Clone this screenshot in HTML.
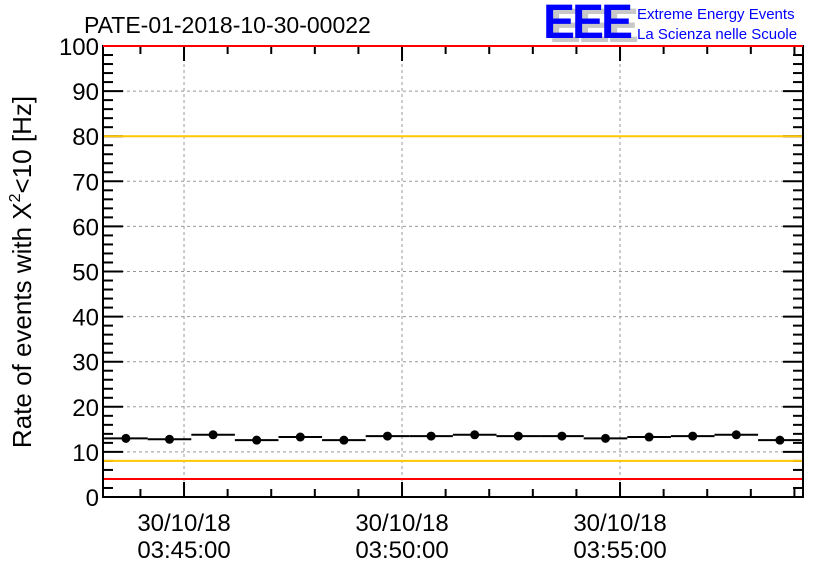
<!DOCTYPE html>
<html><head><meta charset="utf-8"><style>
body{margin:0;background:#fff;width:836px;height:572px;overflow:hidden;font-family:"Liberation Sans",sans-serif}
</style></head><body>
<svg id="c" width="836" height="572" xmlns="http://www.w3.org/2000/svg" font-family="Liberation Sans, sans-serif">
<text x="84" y="33" font-size="23">PATE-01-2018-10-30-00022</text>
<g>
<text x="549" y="42" font-size="48" font-weight="bold" fill="#c8c8c8" letter-spacing="-3">EEE</text>
<text x="543" y="38" font-size="48" font-weight="bold" fill="#0000ff" letter-spacing="-3">EEE</text>
<text x="637" y="19" font-size="15" fill="#0000ff">Extreme Energy Events</text>
<text x="637" y="39" font-size="15" fill="#0000ff">La Scienza nelle Scuole</text>
</g>
<text transform="translate(31,272) rotate(-90)" text-anchor="middle" font-size="26">Rate of events with X<tspan dy="-11" font-size="16">2</tspan><tspan dy="11">&lt;10 [Hz]</tspan></text>
<g id="plot"></g>
</svg>
<script>
const yTicks=[0,10,20,30,40,50,60,70,80,90,100];
const xTickSec=[0,300,600];
const xTickDate=["30/10/18","30/10/18","30/10/18"];
const xTickTime=["03:45:00","03:50:00","03:55:00"];
const binSec=[-80,-20,40,100,160,220,280,340,400,460,520,580,640,700,760,820];
const rates=[13,12.8,13.8,12.6,13.3,12.6,13.5,13.5,13.8,13.5,13.5,13,13.3,13.5,13.8,12.6];
const thrRed=[4,100];
const thrOrange=[8,80];
const L=103,R=803,T=46,B=497,x0=-111.5,x1=851.8;
const X=s=>L+(s-x0)/(x1-x0)*(R-L);
const Y=v=>B-v/100*(B-T);
const g=document.getElementById('plot');const NS="http://www.w3.org/2000/svg";
function el(t,a,p){const e=document.createElementNS(NS,t);for(const k in a)e.setAttribute(k,a[k]);(p||g).appendChild(e);return e;}
yTicks.forEach(v=>{if(v>0&&v<100){const l=el('line',{x1:L,x2:R,y1:Y(v),y2:Y(v),stroke:'#999','stroke-dasharray':'3,3'});

}
const t=el('text',{x:L-4,y:Y(v)+9,'text-anchor':'end','font-size':'24'});t.textContent=v;


el('line',{x1:L,x2:L+20,y1:Y(v),y2:Y(v),stroke:'#000','stroke-width':2});
el('line',{x1:R,x2:R-20,y1:Y(v),y2:Y(v),stroke:'#000','stroke-width':2});});
for(let v=2;v<100;v+=2){if(v%10){el('line',{x1:L,x2:L+10,y1:Y(v),y2:Y(v),stroke:'#000','stroke-width':2});el('line',{x1:R,x2:R-10,y1:Y(v),y2:Y(v),stroke:'#000','stroke-width':2});}}
xTickSec.forEach((s,i)=>{const l=el('line',{x1:X(s),x2:X(s),y1:T,y2:B,stroke:'#999','stroke-dasharray':'3,3'});


el('line',{x1:X(s),x2:X(s),y1:B,y2:B-15,stroke:'#000','stroke-width':2});
el('line',{x1:X(s),x2:X(s),y1:T,y2:T+15,stroke:'#000','stroke-width':2});
const t=el('text',{x:X(s),y:531,'text-anchor':'middle','font-size':'24'});t.textContent=xTickDate[i];


const t2=el('text',{x:X(s),y:558,'text-anchor':'middle','font-size':'24'});t2.textContent=xTickTime[i];

});
for(let s=-60;s<x1;s+=60){if(s%300){el('line',{x1:X(s),x2:X(s),y1:B,y2:B-8,stroke:'#000','stroke-width':2});el('line',{x1:X(s),x2:X(s),y1:T,y2:T+8,stroke:'#000','stroke-width':2});}}
thrOrange.forEach(v=>{const l=el('line',{x1:L,x2:R,y1:Y(v),y2:Y(v),stroke:'#ffc800','stroke-width':2});

});
thrRed.forEach(v=>{const l=el('line',{x1:L,x2:R,y1:Y(v),y2:Y(v),stroke:'#ff0000','stroke-width':2});

});
binSec.forEach((s,i)=>{const b=el('line',{x1:X(s-30),x2:X(s+30),y1:Y(rates[i]),y2:Y(rates[i]),stroke:'#000','stroke-width':2});


const c=el('circle',{cx:X(s),cy:Y(rates[i]),r:4.5,fill:'#000'});

});
const f=el('rect',{x:L,y:T,width:R-L,height:B-T,fill:'none',stroke:'#000','stroke-width':2});


el('line',{x1:L,x2:R,y1:T,y2:T,stroke:'#ff0000','stroke-width':2});
</script>
</body></html>
